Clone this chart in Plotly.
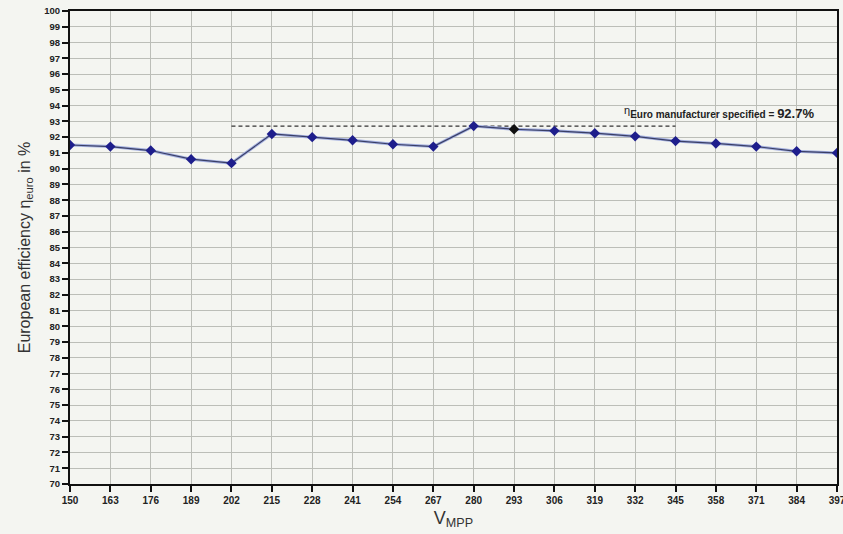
import plotly.graph_objects as go

v_mpp = [150, 163, 176, 189, 202, 215, 228, 241, 254, 267, 280, 293, 306, 319, 332, 345, 358, 371, 384, 397]
efficiency = [91.5, 91.4, 91.15, 90.6, 90.35, 92.2, 92.0, 91.8, 91.55, 91.4, 92.7, 92.5, 92.4, 92.25, 92.05, 91.75, 91.6, 91.4, 91.1, 91.0]
spec_x = [202, 345]
spec_value = 92.7
y_ticks = list(range(70, 101))

marker_colors = ["#1e1e8c"] * len(v_mpp)
marker_colors[v_mpp.index(293)] = "#111111"

fig = go.Figure()
fig.add_trace(go.Scatter(
    x=spec_x, y=[spec_value, spec_value], mode="lines",
    line=dict(color="#333333", width=1.2, dash="4px,3px"), showlegend=False, hoverinfo="skip"))
fig.add_trace(go.Scatter(
    x=v_mpp, y=efficiency, mode="lines",
    line=dict(color="#a4b0e0", width=3), showlegend=False, hoverinfo="skip"))
fig.add_trace(go.Scatter(
    x=v_mpp, y=efficiency, mode="lines+markers",
    line=dict(color="#3a3f66", width=1.2),
    marker=dict(symbol="diamond", size=8, color=marker_colors),
    showlegend=False))

fig.add_annotation(
    x=359, y=93.55, xref="x", yref="y", showarrow=False,
    text="<sup><span style='font-size:11px'>η</span></sup><b>Euro manufacturer specified = </b><b><span style='font-size:13px'>92.7%</span></b>",
    font=dict(family="Liberation Sans, Arial", size=10, color="#222222"))

fig.update_layout(
    width=843, height=534,
    margin=dict(l=70, r=6, t=11, b=50, autoexpand=False),
    paper_bgcolor="#f4f5f1",
    plot_bgcolor="#f4f5f1",
    font=dict(family="Liberation Sans, Arial", color="#222222"),
)
fig.update_xaxes(
    range=[150, 397], tickmode="array", tickvals=v_mpp,
    ticktext=[f"<b>{v}</b>" for v in v_mpp],
    tickfont=dict(size=10, color="#222222"),
    ticklabeloverflow="allow", automargin=False,
    showgrid=True, gridcolor="#bcbeb8", gridwidth=1,
    showline=True, linecolor="#111111", linewidth=2, mirror=True,
    ticks="outside", ticklen=6, tickcolor="#111111", tickwidth=1.5,
    zeroline=False,
    title=dict(text="V<sub>MPP</sub>", font=dict(size=18, color="#333333"), standoff=6),
)
fig.update_yaxes(
    range=[70, 100], tickmode="array", tickvals=y_ticks,
    ticktext=[f"<b>{v}</b>" for v in y_ticks],
    tickfont=dict(size=9.5, color="#222222"),
    automargin=False,
    showgrid=True, gridcolor="#bcbeb8", gridwidth=1,
    showline=True, linecolor="#111111", linewidth=2, mirror=True,
    ticks="outside", ticklen=6, tickcolor="#111111", tickwidth=1.5,
    zeroline=False,
    title=dict(text="European efficiency η<sub>euro</sub> in %", font=dict(size=16, color="#333333"), standoff=10),
)

fig.write_html("out.html")
